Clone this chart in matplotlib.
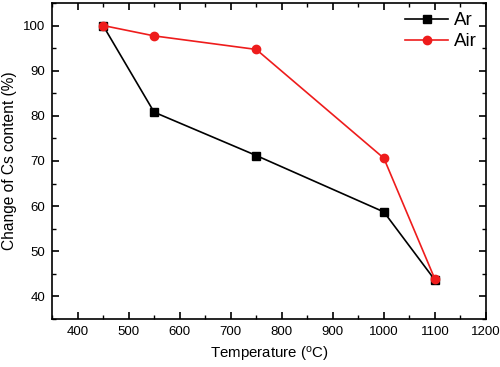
import matplotlib
matplotlib.use('Agg')
import matplotlib.pyplot as plt
from matplotlib.ticker import MultipleLocator

plt.rcParams['font.family'] = ['Liberation Sans', 'DejaVu Sans']
plt.rcParams['mathtext.default'] = 'regular'

temperature = [450, 550, 750, 1000, 1100]
ar_content = [100, 80.8, 71.2, 58.7, 43.6]
air_content = [100, 97.7, 94.7, 70.6, 43.8]

fig = plt.figure(figsize=(5, 3.67), dpi=100)
ax = fig.add_axes([0.104, 0.131, 0.868, 0.861])

ax.plot(temperature, ar_content, color='black', marker='s', markersize=6,
        linewidth=1.2, label='Ar')
ax.plot(temperature, air_content, color='#ee1c1c', marker='o', markersize=6,
        linewidth=1.2, label='Air')

ax.set_xlim(350, 1200)
ax.set_ylim(35, 105)
ax.xaxis.set_major_locator(MultipleLocator(100))
ax.xaxis.set_minor_locator(MultipleLocator(50))
ax.yaxis.set_major_locator(MultipleLocator(10))
ax.yaxis.set_minor_locator(MultipleLocator(5))
ax.tick_params(which='both', direction='in', top=True, right=True, labelsize=9.5)
ax.tick_params(which='major', length=5, width=1.2, pad=5)
ax.tick_params(which='minor', length=3, width=1.0)
for s in ax.spines.values():
    s.set_linewidth(1.2)

ax.set_xlabel('Temperature ($^{o}$C)', fontsize=10.8, labelpad=5)
ax.set_ylabel('Change of Cs content (%)', fontsize=11.2, labelpad=4)
ax.legend(loc='upper right', frameon=False, fontsize=13.5, handlelength=2.3,
          borderaxespad=0.1, handletextpad=0.3, labelspacing=0.2)

fig.savefig('out.png', dpi=100)
